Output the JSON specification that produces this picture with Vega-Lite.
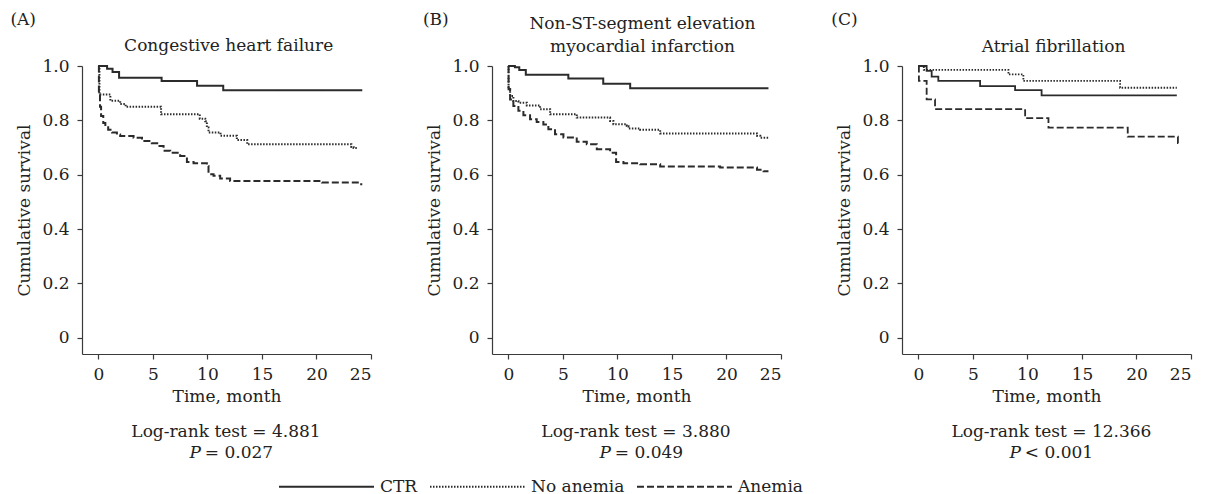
{
  "$schema": "https://vega.github.io/schema/vega-lite/v6.json",
  "background": "white",
  "padding": {"left": 10, "top": 10, "right": 5, "bottom": 0},
  "datasets": {
    "kmA": [
      {"t": 0, "s": 1.0, "group": "CTR"}, {"t": 0.8, "s": 0.99, "group": "CTR"}, {"t": 1.3, "s": 0.978, "group": "CTR"}, {"t": 1.9, "s": 0.957, "group": "CTR"}, {"t": 5.8, "s": 0.945, "group": "CTR"}, {"t": 9.05, "s": 0.927, "group": "CTR"}, {"t": 11.45, "s": 0.911, "group": "CTR"}, {"t": 24.2, "s": 0.911, "group": "CTR"},
      {"t": 0, "s": 1.0, "group": "No anemia"}, {"t": 0.1, "s": 0.895, "group": "No anemia"}, {"t": 1.1, "s": 0.872, "group": "No anemia"}, {"t": 2.0, "s": 0.86, "group": "No anemia"}, {"t": 2.5, "s": 0.85, "group": "No anemia"}, {"t": 5.75, "s": 0.822, "group": "No anemia"}, {"t": 9.3, "s": 0.806, "group": "No anemia"}, {"t": 9.8, "s": 0.797, "group": "No anemia"}, {"t": 9.95, "s": 0.774, "group": "No anemia"}, {"t": 10.1, "s": 0.755, "group": "No anemia"}, {"t": 11.2, "s": 0.743, "group": "No anemia"}, {"t": 12.7, "s": 0.728, "group": "No anemia"}, {"t": 13.65, "s": 0.712, "group": "No anemia"}, {"t": 23.2, "s": 0.702, "group": "No anemia"}, {"t": 23.4, "s": 0.698, "group": "No anemia"}, {"t": 23.8, "s": 0.698, "group": "No anemia"},
      {"t": 0, "s": 1.0, "group": "Anemia"}, {"t": 0.05, "s": 0.9, "group": "Anemia"}, {"t": 0.15, "s": 0.85, "group": "Anemia"}, {"t": 0.25, "s": 0.816, "group": "Anemia"}, {"t": 0.45, "s": 0.79, "group": "Anemia"}, {"t": 0.64, "s": 0.779, "group": "Anemia"}, {"t": 0.9, "s": 0.765, "group": "Anemia"}, {"t": 1.25, "s": 0.755, "group": "Anemia"}, {"t": 1.7, "s": 0.748, "group": "Anemia"}, {"t": 2.0, "s": 0.742, "group": "Anemia"}, {"t": 3.23, "s": 0.736, "group": "Anemia"}, {"t": 4.0, "s": 0.724, "group": "Anemia"}, {"t": 4.9, "s": 0.716, "group": "Anemia"}, {"t": 5.5, "s": 0.706, "group": "Anemia"}, {"t": 5.98, "s": 0.688, "group": "Anemia"}, {"t": 6.59, "s": 0.681, "group": "Anemia"}, {"t": 7.5, "s": 0.669, "group": "Anemia"}, {"t": 8.12, "s": 0.647, "group": "Anemia"}, {"t": 8.73, "s": 0.642, "group": "Anemia"}, {"t": 9.95, "s": 0.632, "group": "Anemia"}, {"t": 10.1, "s": 0.602, "group": "Anemia"}, {"t": 10.56, "s": 0.596, "group": "Anemia"}, {"t": 11.17, "s": 0.586, "group": "Anemia"}, {"t": 12.08, "s": 0.577, "group": "Anemia"}, {"t": 20.5, "s": 0.571, "group": "Anemia"}, {"t": 24.1, "s": 0.565, "group": "Anemia"}, {"t": 24.2, "s": 0.565, "group": "Anemia"}
    ],
    "kmB": [
      {"t": 0, "s": 1.0, "group": "CTR"}, {"t": 0.6, "s": 0.995, "group": "CTR"}, {"t": 1.0, "s": 0.985, "group": "CTR"}, {"t": 1.6, "s": 0.968, "group": "CTR"}, {"t": 5.5, "s": 0.954, "group": "CTR"}, {"t": 8.7, "s": 0.935, "group": "CTR"}, {"t": 11.17, "s": 0.918, "group": "CTR"}, {"t": 23.85, "s": 0.918, "group": "CTR"},
      {"t": 0, "s": 1.0, "group": "No anemia"}, {"t": 0.02, "s": 0.914, "group": "No anemia"}, {"t": 0.16, "s": 0.89, "group": "No anemia"}, {"t": 0.46, "s": 0.871, "group": "No anemia"}, {"t": 0.92, "s": 0.865, "group": "No anemia"}, {"t": 1.69, "s": 0.855, "group": "No anemia"}, {"t": 2.91, "s": 0.841, "group": "No anemia"}, {"t": 3.83, "s": 0.822, "group": "No anemia"}, {"t": 6.27, "s": 0.81, "group": "No anemia"}, {"t": 9.33, "s": 0.798, "group": "No anemia"}, {"t": 9.63, "s": 0.786, "group": "No anemia"}, {"t": 10.86, "s": 0.779, "group": "No anemia"}, {"t": 11.01, "s": 0.77, "group": "No anemia"}, {"t": 12.08, "s": 0.765, "group": "No anemia"}, {"t": 13.92, "s": 0.752, "group": "No anemia"}, {"t": 22.8, "s": 0.743, "group": "No anemia"}, {"t": 23.1, "s": 0.736, "group": "No anemia"}, {"t": 23.85, "s": 0.736, "group": "No anemia"},
      {"t": 0, "s": 1.0, "group": "Anemia"}, {"t": 0.02, "s": 0.914, "group": "Anemia"}, {"t": 0.16, "s": 0.877, "group": "Anemia"}, {"t": 0.46, "s": 0.853, "group": "Anemia"}, {"t": 0.92, "s": 0.835, "group": "Anemia"}, {"t": 1.38, "s": 0.819, "group": "Anemia"}, {"t": 1.99, "s": 0.804, "group": "Anemia"}, {"t": 2.6, "s": 0.794, "group": "Anemia"}, {"t": 3.21, "s": 0.785, "group": "Anemia"}, {"t": 3.67, "s": 0.767, "group": "Anemia"}, {"t": 4.28, "s": 0.749, "group": "Anemia"}, {"t": 5.05, "s": 0.737, "group": "Anemia"}, {"t": 6.27, "s": 0.721, "group": "Anemia"}, {"t": 7.19, "s": 0.712, "group": "Anemia"}, {"t": 8.11, "s": 0.694, "group": "Anemia"}, {"t": 9.33, "s": 0.681, "group": "Anemia"}, {"t": 9.88, "s": 0.647, "group": "Anemia"}, {"t": 10.55, "s": 0.642, "group": "Anemia"}, {"t": 12.08, "s": 0.638, "group": "Anemia"}, {"t": 13.92, "s": 0.63, "group": "Anemia"}, {"t": 19.42, "s": 0.626, "group": "Anemia"}, {"t": 22.8, "s": 0.618, "group": "Anemia"}, {"t": 23.4, "s": 0.613, "group": "Anemia"}, {"t": 23.85, "s": 0.613, "group": "Anemia"}
    ],
    "kmC": [
      {"t": 0, "s": 1.0, "group": "CTR"}, {"t": 0.76, "s": 0.982, "group": "CTR"}, {"t": 1.22, "s": 0.961, "group": "CTR"}, {"t": 1.83, "s": 0.945, "group": "CTR"}, {"t": 5.66, "s": 0.926, "group": "CTR"}, {"t": 8.87, "s": 0.911, "group": "CTR"}, {"t": 11.3, "s": 0.892, "group": "CTR"}, {"t": 23.7, "s": 0.892, "group": "CTR"},
      {"t": 0, "s": 1.0, "group": "No anemia"}, {"t": 0.5, "s": 0.986, "group": "No anemia"}, {"t": 8.26, "s": 0.969, "group": "No anemia"}, {"t": 9.63, "s": 0.945, "group": "No anemia"}, {"t": 18.5, "s": 0.92, "group": "No anemia"}, {"t": 23.7, "s": 0.92, "group": "No anemia"},
      {"t": 0, "s": 1.0, "group": "Anemia"}, {"t": 0.05, "s": 0.945, "group": "Anemia"}, {"t": 0.76, "s": 0.877, "group": "Anemia"}, {"t": 1.53, "s": 0.841, "group": "Anemia"}, {"t": 9.79, "s": 0.808, "group": "Anemia"}, {"t": 11.93, "s": 0.773, "group": "Anemia"}, {"t": 19.2, "s": 0.74, "group": "Anemia"}, {"t": 23.8, "s": 0.716, "group": "Anemia"}, {"t": 23.85, "s": 0.716, "group": "Anemia"}
    ]
  },
  "spacing": 121,
  "bounds": "flush",
  "hconcat": [
    {
      "width": 289, "height": 288,
      "layer": [
        {
          "data": {"name": "kmA"},
          "mark": {"type": "line", "interpolate": "step-after", "color": "#2b2b2b", "strokeWidth": 2},
          "encoding": {
            "x": {"field": "t", "type": "quantitative", "scale": {"domain": [-1.5, 25], "nice": false, "zero": false}, "axis": {"values": [0, 5, 10, 15, 20, 25]}, "title": "Time, month"},
            "y": {"field": "s", "type": "quantitative", "scale": {"domain": [-0.06, 1.0], "nice": false, "zero": false}, "axis": {"values": [0, 0.2, 0.4, 0.6, 0.8, 1.0]}, "title": "Cumulative survival"},
            "strokeDash": {"field": "group", "type": "nominal", "scale": {"domain": ["CTR", "No anemia", "Anemia"], "range": [[1, 0], [1.5, 1.5], [7, 3]]}, "legend": {"orient": "none", "legendX": 196, "legendY": 372, "direction": "horizontal", "title": null}}
          }
        },
        {
          "data": {"values": [{}]},
          "mark": {"type": "text", "align": "left", "baseline": "middle", "fontSize": 17, "color": "#222"},
          "encoding": {
            "x": {"datum": -8.06, "type": "quantitative", "scale": {"domain": [-1.5, 25], "nice": false, "zero": false}, "title": "Time, month"},
            "y": {"datum": 1.17, "type": "quantitative", "scale": {"domain": [-0.06, 1.0], "nice": false, "zero": false}, "title": "Cumulative survival"},
            "text": {"value": "(A)"}
          }
        },
        {
          "data": {"values": [{}]},
          "mark": {"type": "text", "align": "center", "baseline": "alphabetic", "fontSize": 17, "color": "#222"},
          "encoding": {
            "x": {"datum": 11.95, "type": "quantitative", "scale": {"domain": [-1.5, 25], "nice": false, "zero": false}, "title": "Time, month"},
            "y": {"datum": 1.055, "type": "quantitative", "scale": {"domain": [-0.06, 1.0], "nice": false, "zero": false}, "title": "Cumulative survival"},
            "text": {"value": "Congestive heart failure"}
          }
        },
        {
          "data": {"values": [{}]},
          "mark": {"type": "text", "align": "center", "baseline": "middle", "fontSize": 17, "color": "#222"},
          "encoding": {
            "x": {"datum": 11.7, "type": "quantitative", "scale": {"domain": [-1.5, 25], "nice": false, "zero": false}, "title": "Time, month"},
            "y": {"datum": -0.346, "type": "quantitative", "scale": {"domain": [-0.06, 1.0], "nice": false, "zero": false}, "title": "Cumulative survival"},
            "text": {"value": "Log-rank test = 4.881"}
          }
        },
        {
          "data": {"values": [{}]},
          "mark": {"type": "text", "align": "right", "baseline": "middle", "fontSize": 17, "fontStyle": "italic", "color": "#222"},
          "encoding": {
            "x": {"datum": 9.4, "type": "quantitative", "scale": {"domain": [-1.5, 25], "nice": false, "zero": false}, "title": "Time, month"},
            "y": {"datum": -0.426, "type": "quantitative", "scale": {"domain": [-0.06, 1.0], "nice": false, "zero": false}, "title": "Cumulative survival"},
            "text": {"value": "P"}
          }
        },
        {
          "data": {"values": [{}]},
          "mark": {"type": "text", "align": "left", "baseline": "middle", "fontSize": 17, "color": "#222", "dx": 4},
          "encoding": {
            "x": {"datum": 9.4, "type": "quantitative", "scale": {"domain": [-1.5, 25], "nice": false, "zero": false}, "title": "Time, month"},
            "y": {"datum": -0.426, "type": "quantitative", "scale": {"domain": [-0.06, 1.0], "nice": false, "zero": false}, "title": "Cumulative survival"},
            "text": {"value": "= 0.027"}
          }
        }
      ]
    },
    {
      "width": 289, "height": 288,
      "layer": [
        {
          "data": {"name": "kmB"},
          "mark": {"type": "line", "interpolate": "step-after", "color": "#2b2b2b", "strokeWidth": 2},
          "encoding": {
            "x": {"field": "t", "type": "quantitative", "scale": {"domain": [-1.5, 25], "nice": false, "zero": false}, "axis": {"values": [0, 5, 10, 15, 20, 25]}, "title": "Time, month"},
            "y": {"field": "s", "type": "quantitative", "scale": {"domain": [-0.06, 1.0], "nice": false, "zero": false}, "axis": {"values": [0, 0.2, 0.4, 0.6, 0.8, 1.0]}, "title": "Cumulative survival"},
            "strokeDash": {"field": "group", "type": "nominal", "scale": {"domain": ["CTR", "No anemia", "Anemia"], "range": [[1, 0], [1.5, 1.5], [7, 3]]}, "legend": {"orient": "none", "legendX": 196, "legendY": 372, "direction": "horizontal", "title": null}}
          }
        },
        {
          "data": {"values": [{}]},
          "mark": {"type": "text", "align": "left", "baseline": "middle", "fontSize": 17, "color": "#222"},
          "encoding": {
            "x": {"datum": -7.83, "type": "quantitative", "scale": {"domain": [-1.5, 25], "nice": false, "zero": false}, "title": "Time, month"},
            "y": {"datum": 1.17, "type": "quantitative", "scale": {"domain": [-0.06, 1.0], "nice": false, "zero": false}, "title": "Cumulative survival"},
            "text": {"value": "(B)"}
          }
        },
        {
          "data": {"values": [{}]},
          "mark": {"type": "text", "align": "center", "baseline": "alphabetic", "fontSize": 17, "lineHeight": 22.4, "color": "#222"},
          "encoding": {
            "x": {"datum": 12.3, "type": "quantitative", "scale": {"domain": [-1.5, 25], "nice": false, "zero": false}, "title": "Time, month"},
            "y": {"datum": 1.135, "type": "quantitative", "scale": {"domain": [-0.06, 1.0], "nice": false, "zero": false}, "title": "Cumulative survival"},
            "text": {"value": ["Non-ST-segment elevation", "myocardial infarction"]}
          }
        },
        {
          "data": {"values": [{}]},
          "mark": {"type": "text", "align": "center", "baseline": "middle", "fontSize": 17, "color": "#222"},
          "encoding": {
            "x": {"datum": 11.7, "type": "quantitative", "scale": {"domain": [-1.5, 25], "nice": false, "zero": false}, "title": "Time, month"},
            "y": {"datum": -0.346, "type": "quantitative", "scale": {"domain": [-0.06, 1.0], "nice": false, "zero": false}, "title": "Cumulative survival"},
            "text": {"value": "Log-rank test = 3.880"}
          }
        },
        {
          "data": {"values": [{}]},
          "mark": {"type": "text", "align": "right", "baseline": "middle", "fontSize": 17, "fontStyle": "italic", "color": "#222"},
          "encoding": {
            "x": {"datum": 9.4, "type": "quantitative", "scale": {"domain": [-1.5, 25], "nice": false, "zero": false}, "title": "Time, month"},
            "y": {"datum": -0.426, "type": "quantitative", "scale": {"domain": [-0.06, 1.0], "nice": false, "zero": false}, "title": "Cumulative survival"},
            "text": {"value": "P"}
          }
        },
        {
          "data": {"values": [{}]},
          "mark": {"type": "text", "align": "left", "baseline": "middle", "fontSize": 17, "color": "#222", "dx": 4},
          "encoding": {
            "x": {"datum": 9.4, "type": "quantitative", "scale": {"domain": [-1.5, 25], "nice": false, "zero": false}, "title": "Time, month"},
            "y": {"datum": -0.426, "type": "quantitative", "scale": {"domain": [-0.06, 1.0], "nice": false, "zero": false}, "title": "Cumulative survival"},
            "text": {"value": "= 0.049"}
          }
        }
      ]
    },
    {
      "width": 289, "height": 288,
      "layer": [
        {
          "data": {"name": "kmC"},
          "mark": {"type": "line", "interpolate": "step-after", "color": "#2b2b2b", "strokeWidth": 1.8},
          "encoding": {
            "x": {"field": "t", "type": "quantitative", "scale": {"domain": [-1.5, 25], "nice": false, "zero": false}, "axis": {"values": [0, 5, 10, 15, 20, 25]}, "title": "Time, month"},
            "y": {"field": "s", "type": "quantitative", "scale": {"domain": [-0.06, 1.0], "nice": false, "zero": false}, "axis": {"values": [0, 0.2, 0.4, 0.6, 0.8, 1.0]}, "title": "Cumulative survival"},
            "strokeDash": {"field": "group", "type": "nominal", "scale": {"domain": ["CTR", "No anemia", "Anemia"], "range": [[1, 0], [1.5, 1.5], [7, 3]]}, "legend": {"orient": "none", "legendX": 196, "legendY": 372, "direction": "horizontal", "title": null}}
          }
        },
        {
          "data": {"values": [{}]},
          "mark": {"type": "text", "align": "left", "baseline": "middle", "fontSize": 17, "color": "#222"},
          "encoding": {
            "x": {"datum": -7.98, "type": "quantitative", "scale": {"domain": [-1.5, 25], "nice": false, "zero": false}, "title": "Time, month"},
            "y": {"datum": 1.17, "type": "quantitative", "scale": {"domain": [-0.06, 1.0], "nice": false, "zero": false}, "title": "Cumulative survival"},
            "text": {"value": "(C)"}
          }
        },
        {
          "data": {"values": [{}]},
          "mark": {"type": "text", "align": "center", "baseline": "alphabetic", "fontSize": 17, "color": "#222"},
          "encoding": {
            "x": {"datum": 12.4, "type": "quantitative", "scale": {"domain": [-1.5, 25], "nice": false, "zero": false}, "title": "Time, month"},
            "y": {"datum": 1.053, "type": "quantitative", "scale": {"domain": [-0.06, 1.0], "nice": false, "zero": false}, "title": "Cumulative survival"},
            "text": {"value": "Atrial fibrillation"}
          }
        },
        {
          "data": {"values": [{}]},
          "mark": {"type": "text", "align": "center", "baseline": "middle", "fontSize": 17, "color": "#222"},
          "encoding": {
            "x": {"datum": 12.2, "type": "quantitative", "scale": {"domain": [-1.5, 25], "nice": false, "zero": false}, "title": "Time, month"},
            "y": {"datum": -0.346, "type": "quantitative", "scale": {"domain": [-0.06, 1.0], "nice": false, "zero": false}, "title": "Cumulative survival"},
            "text": {"value": "Log-rank test = 12.366"}
          }
        },
        {
          "data": {"values": [{}]},
          "mark": {"type": "text", "align": "right", "baseline": "middle", "fontSize": 17, "fontStyle": "italic", "color": "#222"},
          "encoding": {
            "x": {"datum": 9.4, "type": "quantitative", "scale": {"domain": [-1.5, 25], "nice": false, "zero": false}, "title": "Time, month"},
            "y": {"datum": -0.426, "type": "quantitative", "scale": {"domain": [-0.06, 1.0], "nice": false, "zero": false}, "title": "Cumulative survival"},
            "text": {"value": "P"}
          }
        },
        {
          "data": {"values": [{}]},
          "mark": {"type": "text", "align": "left", "baseline": "middle", "fontSize": 17, "color": "#222", "dx": 4},
          "encoding": {
            "x": {"datum": 9.4, "type": "quantitative", "scale": {"domain": [-1.5, 25], "nice": false, "zero": false}, "title": "Time, month"},
            "y": {"datum": -0.426, "type": "quantitative", "scale": {"domain": [-0.06, 1.0], "nice": false, "zero": false}, "title": "Cumulative survival"},
            "text": {"value": "< 0.001"}
          }
        }
      ]
    }
  ],
  "config": {
    "view": {"stroke": null},
    "font": "DejaVu Serif",
    "text": {"font": "DejaVu Serif"},
    "axis": {"grid": false, "domainColor": "#3a3a3a", "tickColor": "#3a3a3a", "domainWidth": 1.2, "tickWidth": 1.2, "tickSize": 5, "labelFont": "DejaVu Serif", "labelFontSize": 17, "labelColor": "#222", "titleFont": "DejaVu Serif", "titleFontSize": 17, "titleFontWeight": "normal", "titleColor": "#222"},
    "axisX": {"labelPadding": 7, "titlePadding": 6},
    "axisY": {"labelPadding": 8, "titlePadding": 8, "labelExpr": "datum.value == 0 ? '0' : format(datum.value, '.1f')"},
    "legend": {"symbolType": "stroke", "symbolSize": 9025, "symbolStrokeWidth": 2, "symbolStrokeColor": "#2b2b2b", "labelFont": "DejaVu Serif", "labelFontSize": 17, "labelColor": "#222", "labelOffset": 5, "columnPadding": 8}
  }
}
